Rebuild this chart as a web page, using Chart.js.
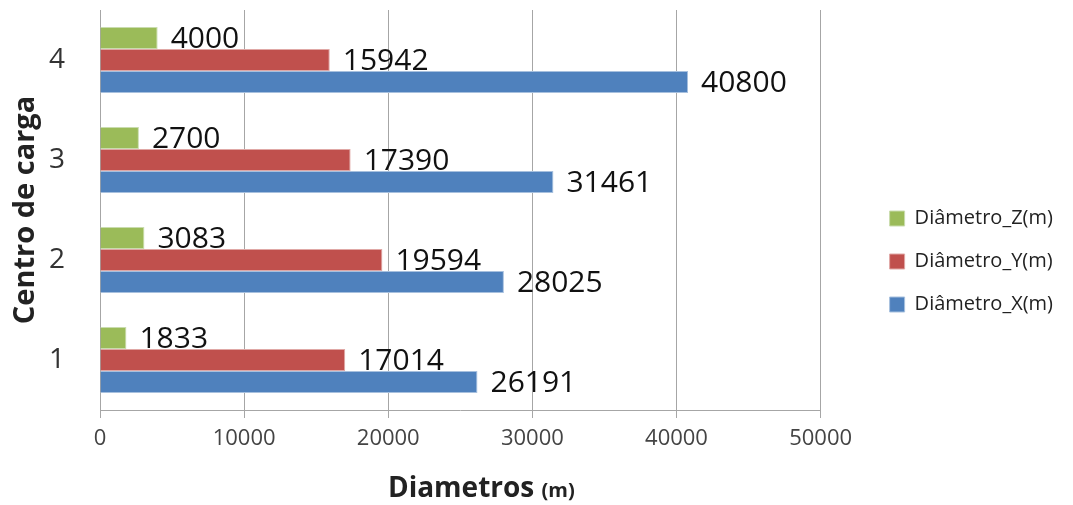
<!DOCTYPE html>
<html>
<head>
<meta charset="utf-8">
<script src="https://cdn.jsdelivr.net/npm/chart.js@4/dist/chart.umd.min.js"></script>
<style>
  html, body { margin: 0; padding: 0; background: #fff; }
  #wrap { width: 1073px; height: 505px; }
</style>
</head>
<body>
<div id="wrap"><canvas id="chart"></canvas></div>
<script>
// data
const categories = ['4', '3', '2', '1'];
const diametroZ = [4000, 2700, 3083, 1833];
const diametroY = [15942, 17390, 19594, 17014];
const diametroX = [40800, 31461, 28025, 26191];
const seriesNames = ['Diâmetro_Z(m)', 'Diâmetro_Y(m)', 'Diâmetro_X(m)'];
const xTitle = 'Diametros';
const xUnit = '(m)';
const yTitle = 'Centro de carga';

const FONT = "'Open Sans', sans-serif";

// value labels to the right of each bar
const valueLabels = {
  id: 'valueLabels',
  afterDatasetsDraw(chart) {
    const ctx = chart.ctx;
    ctx.save();
    ctx.font = '30px ' + FONT;
    ctx.fillStyle = '#111';
    ctx.textAlign = 'left';
    ctx.textBaseline = 'middle';
    chart.data.datasets.forEach((ds, i) => {
      chart.getDatasetMeta(i).data.forEach((bar, j) => {
        ctx.fillText(String(ds.data[j]), bar.x + 13, bar.y + 1);
      });
    });
    ctx.restore();
  }
};

// x axis title with a smaller unit
const xAxisTitle = {
  id: 'xAxisTitle',
  afterDraw(chart) {
    const ctx = chart.ctx;
    const a = chart.chartArea;
    ctx.save();
    ctx.fillStyle = '#222';
    ctx.textBaseline = 'alphabetic';
    ctx.font = 'bold 28px ' + FONT;
    const w1 = ctx.measureText(xTitle + ' ').width;
    ctx.font = 'bold 20px ' + FONT;
    const w2 = ctx.measureText(xUnit).width;
    const x0 = (a.left + a.right) / 2 + 21 - (w1 + w2) / 2;
    ctx.font = 'bold 28px ' + FONT;
    ctx.fillText(xTitle + ' ', x0, 497);
    ctx.font = 'bold 20px ' + FONT;
    ctx.fillText(xUnit, x0 + w1, 497);
    ctx.restore();
  }
};

// move the legend away from the plot, like the original
const legendShift = {
  id: 'legendShift',
  afterLayout(chart) {
    const lg = chart.legend;
    const w = lg.right - lg.left;
    lg.left = chart.chartArea.right + 46;
    lg.right = lg.left + w + 20;
    lg.top += 4;
    lg.bottom += 4;
  }
};

new Chart(document.getElementById('chart'), {
  type: 'bar',
  data: {
    labels: categories,
    datasets: [
      { label: seriesNames[0], data: diametroZ, backgroundColor: '#9BBB59', borderColor: '#c9dcae', borderWidth: 1 },
      { label: seriesNames[1], data: diametroY, backgroundColor: '#C0504D', borderColor: '#e0a8a6', borderWidth: 1 },
      { label: seriesNames[2], data: diametroX, backgroundColor: '#4F81BD', borderColor: '#a7c0de', borderWidth: 1 }
    ]
  },
  options: {
    indexAxis: 'y',
    responsive: true,
    maintainAspectRatio: false,
    animation: false,
    categoryPercentage: 0.66,
    barPercentage: 1.0,
    layout: { padding: { top: 10, left: 0, right: 56, bottom: 0 } },
    plugins: {
      tooltip: { enabled: false },
      legend: {
        position: 'right',
        labels: {
          font: { family: FONT, size: 20 },
          color: '#222',
          boxWidth: 15,
          boxHeight: 15,
          padding: 23
        }
      }
    },
    scales: {
      x: {
        min: 0,
        max: 50000,
        ticks: {
          stepSize: 10000,
          font: { family: FONT, size: 22 },
          color: '#444',
          padding: 8,
          callback: (v) => String(v)
        },
        grid: { color: '#a6a6a6', lineWidth: 1, tickLength: 8, drawTicks: true },
        border: { color: '#a6a6a6' },
        afterFit(scale) {
          scale.height = 95;
          scale.paddingLeft = 0;
          scale.paddingRight = 0;
        }
      },
      y: {
        ticks: { font: { family: FONT, size: 28 }, color: '#333', padding: 35 },
        grid: { display: false, drawTicks: false },
        border: { display: true, color: '#a6a6a6' },
        title: {
          display: true,
          text: yTitle,
          font: { family: FONT, size: 29, weight: 'bold' },
          color: '#222',
          padding: { top: 8, bottom: 0 }
        },
        afterFit(scale) {
          scale.width = 100;
          scale.paddingTop = 0;
          scale.paddingBottom = 0;
        }
      }
    }
  },
  plugins: [valueLabels, xAxisTitle, legendShift]
});
</script>
</body>
</html>
